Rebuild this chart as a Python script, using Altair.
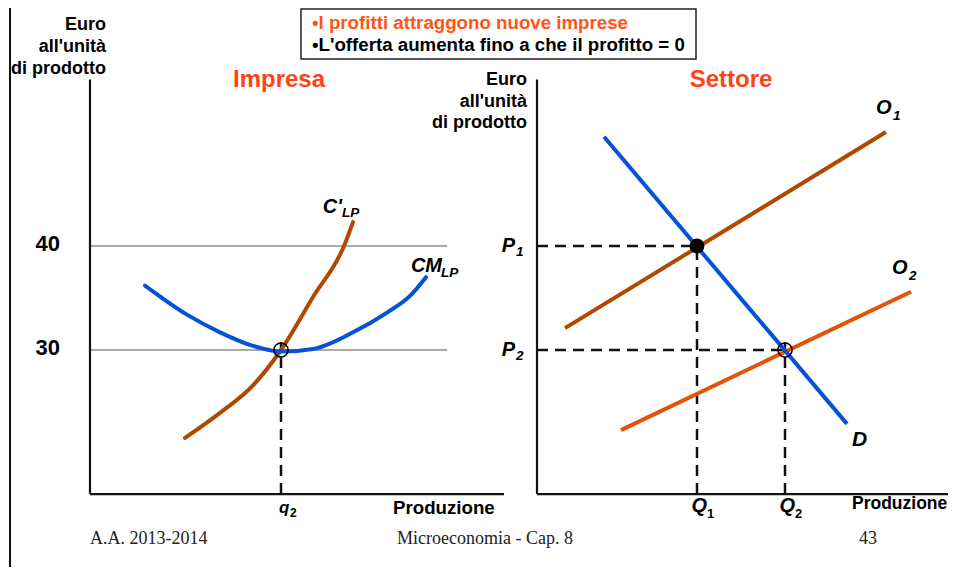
import altair as alt
import pandas as pd

# ---------------- data ----------------
# Left panel "Impresa": quantity q (arbitrary units) vs euro per unit
cm_q = [13.75, 24.25, 32.5, 40.75, 47.75, 55.75, 65.75, 74.25, 80.0, 84.0]
cm_euro = [36.2, 33.4, 31.7, 30.4, 29.85, 30.1, 31.7, 33.6, 35.2, 37.0]
cmg_q = [23.75, 32.5, 40.75, 47.75, 55.75, 63.5, 65.75]
cmg_euro = [21.55, 23.95, 26.6, 30.0, 35.1, 40.0, 42.3]
price_levels = [40, 30]
price_labels = ["40", "30"]
q2 = 47.75
gray_end = 89.25
left_x_end = 103.5
axis_bottom = 16.15
axis_top = 56.0
dash_top_extra = 0.77

# Right panel "Settore": market quantity Q vs price P
d_Q = [16.75, 77.5]
d_P = [50.5, 22.9]
o1_Q = [7.0, 87.25]
o1_P = [32.1, 50.96]
o2_Q = [21.0, 93.5]
o2_P = [22.3, 35.6]
eq_Q = [40, 62]
eq_P = [40, 30]
eq_sub = ["1", "2"]
right_x_end = 106

header_lines = ["\u2022I profitti attraggono nuove imprese",
                "\u2022L'offerta aumenta fino a che il profitto = 0"]
y_title = ["Euro", "all'unit\u00e0", "di prodotto"]
footer = ["A.A. 2013-2014", "Microeconomia - Cap. 8", "43"]

# ---------------- styles ----------------
SANS = "Liberation Sans"
SERIF = "Liberation Serif"
BLUE = "#0552D6"
BROWN = "#B04800"
ORANGE = "#E45206"
TITLE = "#FF4312"
HEAD = "#FF5514"
GRAY = "#AAAAAA"
INK = "#111111"

LX = alt.Scale(domain=[0, 100], range=[82, 482], nice=False, zero=False)
RX = alt.Scale(domain=[0, 100], range=[529, 929], nice=False, zero=False)
YS = alt.Scale(domain=[30, 40], range=[342, 238], nice=False, zero=False)


def X(field, scale):
    return alt.X(field, type="quantitative", scale=scale, axis=None)


def Y(field):
    return alt.Y(field, type="quantitative", scale=YS, axis=None)


def X2(field):
    return alt.X2(field)


def Y2(field):
    return alt.Y2(field)


layers = []

# slide left border
layers.append(alt.Chart(pd.DataFrame({"a": [0]})).mark_rule(color=INK, strokeWidth=2).encode(
    x=alt.value(2), y=alt.value(0), y2=alt.value(559)))

# header box and text
layers.append(alt.Chart(pd.DataFrame({"a": [0]})).mark_rect(fill="white", stroke="#222222", strokeWidth=1.5).encode(
    x=alt.value(293), x2=alt.value(688), y=alt.value(1), y2=alt.value(51)))
layers.append(alt.Chart(pd.DataFrame({"t": [header_lines[0]]})).mark_text(
    align="left", baseline="alphabetic", font=SANS, fontSize=18.7, fontWeight="bold", color=HEAD).encode(
    text="t:N", x=alt.value(304), y=alt.value(20.5)))
layers.append(alt.Chart(pd.DataFrame({"t": [header_lines[1]]})).mark_text(
    align="left", baseline="alphabetic", font=SANS, fontSize=18.7, fontWeight="bold", color="black").encode(
    text="t:N", x=alt.value(304), y=alt.value(42.8)))

# panel titles
layers.append(alt.Chart(pd.DataFrame({"t": ["Impresa"]})).mark_text(
    align="center", baseline="alphabetic", font=SANS, fontSize=24, fontWeight="bold", color=TITLE).encode(
    text="t:N", x=alt.value(271), y=alt.value(79)))
layers.append(alt.Chart(pd.DataFrame({"t": ["Settore"]})).mark_text(
    align="center", baseline="alphabetic", font=SANS, fontSize=24, fontWeight="bold", color=TITLE).encode(
    text="t:N", x=alt.value(723), y=alt.value(79)))

# y axis titles
layers.append(alt.Chart(pd.DataFrame({"a": [0]})).mark_text(
    text=y_title, align="right", baseline="alphabetic", font=SANS, fontSize=18, fontWeight="bold",
    lineHeight=22, color="black").encode(x=alt.value(98), y=alt.value(22)))
layers.append(alt.Chart(pd.DataFrame({"a": [0]})).mark_text(
    text=y_title, align="right", baseline="alphabetic", font=SANS, fontSize=18, fontWeight="bold",
    lineHeight=21.5, color="black").encode(x=alt.value(519), y=alt.value(77)))

# x axis titles
layers.append(alt.Chart(pd.DataFrame({"t": ["Produzione"]})).mark_text(
    align="left", baseline="alphabetic", font=SANS, fontSize=18.7, fontWeight="bold", color="black").encode(
    text="t:N", x=alt.value(385), y=alt.value(506)))
layers.append(alt.Chart(pd.DataFrame({"t": ["Produzione"]})).mark_text(
    align="left", baseline="alphabetic", font=SANS, fontSize=17.5, fontWeight="bold", color="black").encode(
    text="t:N", x=alt.value(844), y=alt.value(501)))

# footer
for txt, xv, al in zip(footer, [82, 389, 860], ["left", "left", "center"]):
    layers.append(alt.Chart(pd.DataFrame({"t": [txt]})).mark_text(
        align=al, baseline="alphabetic", font=SERIF, fontSize=18, color="#222222").encode(
        text="t:N", x=alt.value(xv), y=alt.value(536)))

# ---------- left panel ----------
gray_df = pd.DataFrame({"x0": [0, 0], "x1": [gray_end, gray_end], "e": price_levels})
layers.append(alt.Chart(gray_df).mark_rule(color=GRAY, strokeWidth=2).encode(
    x=X("x0", LX), x2=X2("x1"), y=Y("e")))

laxes = pd.DataFrame({"x0": [0, 0], "x1": [0, left_x_end], "y0": [axis_bottom, axis_bottom],
                      "y1": [axis_top, axis_bottom]})
layers.append(alt.Chart(laxes).mark_rule(color=INK, strokeWidth=2.2).encode(
    x=X("x0", LX), x2=X2("x1"), y=Y("y0"), y2=Y2("y1")))

layers.append(alt.Chart(pd.DataFrame({"e": price_levels, "t": price_labels, "x": [0, 0]})).mark_text(
    align="right", baseline="alphabetic", dx=-30, dy=5, font=SANS, fontSize=22, fontWeight="bold",
    color="black").encode(x=X("x", LX), y=Y("e"), text="t:N"))

ldash = pd.DataFrame({"x": [q2], "y0": [axis_bottom], "y1": [eq_P[1] + dash_top_extra]})
layers.append(alt.Chart(ldash).mark_rule(color=INK, strokeWidth=2.5, strokeDash=[11, 7]).encode(
    x=X("x", LX), y=Y("y0"), y2=Y2("y1")))

layers.append(alt.Chart(pd.DataFrame({"q": cmg_q, "e": cmg_euro})).mark_line(
    color=BROWN, strokeWidth=4, strokeCap="round", interpolate="monotone").encode(
    x=X("q", LX), y=Y("e")))
layers.append(alt.Chart(pd.DataFrame({"q": cm_q, "e": cm_euro})).mark_line(
    color=BLUE, strokeWidth=4, strokeCap="round", interpolate="monotone").encode(
    x=X("q", LX), y=Y("e")))

layers.append(alt.Chart(pd.DataFrame({"q": [q2], "e": [eq_P[1]]})).mark_point(
    shape="circle", filled=False, size=200, color="black", strokeWidth=1.5, opacity=1).encode(
    x=X("q", LX), y=Y("e")))

# curve labels (left)
cmg_end = pd.DataFrame({"q": [cmg_q[-1]], "e": [cmg_euro[-1]], "m": ["C'"], "s": ["LP"]})
layers.append(alt.Chart(cmg_end).mark_text(align="right", baseline="alphabetic", dx=-11, dy=-9,
    font=SANS, fontSize=20, fontWeight="bold", fontStyle="italic", color="black").encode(
    x=X("q", LX), y=Y("e"), text="m:N"))
layers.append(alt.Chart(cmg_end).mark_text(align="left", baseline="alphabetic", dx=-11, dy=-5,
    font=SANS, fontSize=13.5, fontWeight="bold", fontStyle="italic", color="black").encode(
    x=X("q", LX), y=Y("e"), text="s:N"))
cm_end = pd.DataFrame({"q": [cm_q[-1]], "e": [cm_euro[-1]], "m": ["CM"], "s": ["LP"]})
layers.append(alt.Chart(cm_end).mark_text(align="right", baseline="alphabetic", dx=16, dy=-5,
    font=SANS, fontSize=20, fontWeight="bold", fontStyle="italic", color="black").encode(
    x=X("q", LX), y=Y("e"), text="m:N"))
layers.append(alt.Chart(cm_end).mark_text(align="left", baseline="alphabetic", dx=15, dy=0,
    font=SANS, fontSize=13.5, fontWeight="bold", fontStyle="italic", color="black").encode(
    x=X("q", LX), y=Y("e"), text="s:N"))

q2_df = pd.DataFrame({"q": [q2], "e": [axis_bottom], "m": ["q"], "s": ["2"]})
layers.append(alt.Chart(q2_df).mark_text(align="left", baseline="alphabetic", dx=-2, dy=19,
    font=SANS, fontSize=17, fontWeight="bold", fontStyle="italic", color="black").encode(
    x=X("q", LX), y=Y("e"), text="m:N"))
layers.append(alt.Chart(q2_df).mark_text(align="left", baseline="alphabetic", dx=9, dy=23,
    font=SANS, fontSize=12, fontWeight="bold", color="black").encode(
    x=X("q", LX), y=Y("e"), text="s:N"))

# ---------- right panel ----------
raxes = pd.DataFrame({"x0": [0, 0], "x1": [0, right_x_end], "y0": [axis_bottom, axis_bottom],
                      "y1": [axis_top, axis_bottom]})
layers.append(alt.Chart(raxes).mark_rule(color=INK, strokeWidth=2.2).encode(
    x=X("x0", RX), x2=X2("x1"), y=Y("y0"), y2=Y2("y1")))

hdash = pd.DataFrame({"x0": [0, 0], "x1": eq_Q, "p": eq_P})
layers.append(alt.Chart(hdash).mark_rule(color=INK, strokeWidth=2.5, strokeDash=[11, 7]).encode(
    x=X("x0", RX), x2=X2("x1"), y=Y("p")))
vdash = pd.DataFrame({"x": eq_Q, "y0": [axis_bottom, axis_bottom], "y1": [eq_P[0], eq_P[1] + dash_top_extra]})
layers.append(alt.Chart(vdash).mark_rule(color=INK, strokeWidth=2.5, strokeDash=[11, 7]).encode(
    x=X("x", RX), y=Y("y0"), y2=Y2("y1")))

layers.append(alt.Chart(pd.DataFrame({"Q": o1_Q, "P": o1_P})).mark_line(
    color=BROWN, strokeWidth=4).encode(x=X("Q", RX), y=Y("P")))
layers.append(alt.Chart(pd.DataFrame({"Q": o2_Q, "P": o2_P})).mark_line(
    color=ORANGE, strokeWidth=4).encode(x=X("Q", RX), y=Y("P")))
layers.append(alt.Chart(pd.DataFrame({"Q": d_Q, "P": d_P})).mark_line(
    color=BLUE, strokeWidth=4).encode(x=X("Q", RX), y=Y("P")))

layers.append(alt.Chart(pd.DataFrame({"Q": [eq_Q[0]], "P": [eq_P[0]]})).mark_circle(
    size=220, color="black", opacity=1).encode(x=X("Q", RX), y=Y("P")))
layers.append(alt.Chart(pd.DataFrame({"Q": [eq_Q[1]], "P": [eq_P[1]]})).mark_point(
    shape="circle", filled=False, size=200, color="black", strokeWidth=1.5, opacity=1).encode(
    x=X("Q", RX), y=Y("P")))

# P and Q labels
plab = pd.DataFrame({"Q": [0, 0], "P": eq_P, "m": ["P", "P"], "s": eq_sub})
layers.append(alt.Chart(plab).mark_text(align="right", baseline="alphabetic", dx=-22, dy=6,
    font=SANS, fontSize=20, fontWeight="bold", fontStyle="italic", color="black").encode(
    x=X("Q", RX), y=Y("P"), text="m:N"))
layers.append(alt.Chart(plab).mark_text(align="left", baseline="alphabetic", dx=-21, dy=10,
    font=SANS, fontSize=13.5, fontWeight="bold", fontStyle="italic", color="black").encode(
    x=X("Q", RX), y=Y("P"), text="s:N"))
qlab = pd.DataFrame({"Q": eq_Q, "P": [axis_bottom, axis_bottom], "m": ["Q", "Q"], "s": eq_sub})
layers.append(alt.Chart(qlab).mark_text(align="right", baseline="alphabetic", dx=10, dy=18,
    font=SANS, fontSize=20, fontWeight="bold", fontStyle="italic", color="black").encode(
    x=X("Q", RX), y=Y("P"), text="m:N"))
layers.append(alt.Chart(qlab).mark_text(align="left", baseline="alphabetic", dx=10, dy=24,
    font=SANS, fontSize=13, fontWeight="bold", color="black").encode(
    x=X("Q", RX), y=Y("P"), text="s:N"))

# curve labels (right)
olab = pd.DataFrame({"Q": [o1_Q[-1], o2_Q[-1]], "P": [o1_P[-1], o2_P[-1]], "m": ["O", "O"],
                     "s": eq_sub, "dxm": [-10, -19]})
for i in range(2):
    row = olab.iloc[[i]]
    layers.append(alt.Chart(row).mark_text(align="left", baseline="alphabetic", dx=int(row["dxm"].iloc[0]), dy=-18,
        font=SANS, fontSize=20, fontWeight="bold", fontStyle="italic", color="black").encode(
        x=X("Q", RX), y=Y("P"), text="m:N"))
    layers.append(alt.Chart(row).mark_text(align="left", baseline="alphabetic", dx=int(row["dxm"].iloc[0]) + 17, dy=-12,
        font=SANS, fontSize=13.5, fontWeight="bold", fontStyle="italic", color="black").encode(
        x=X("Q", RX), y=Y("P"), text="s:N"))
dlab = pd.DataFrame({"Q": [d_Q[-1]], "P": [d_P[-1]], "m": ["D"]})
layers.append(alt.Chart(dlab).mark_text(align="left", baseline="alphabetic", dx=5, dy=22,
    font=SANS, fontSize=21, fontWeight="bold", fontStyle="italic", color="black").encode(
    x=X("Q", RX), y=Y("P"), text="m:N"))

chart = alt.layer(*layers).resolve_scale(x="independent", y="independent").properties(
    width=940, height=559, padding=0, autosize=alt.AutoSizeParams(type="none"),
    background="white").configure_view(stroke=None)

chart.save("out.html", embed_options={"renderer": "svg", "actions": False})
